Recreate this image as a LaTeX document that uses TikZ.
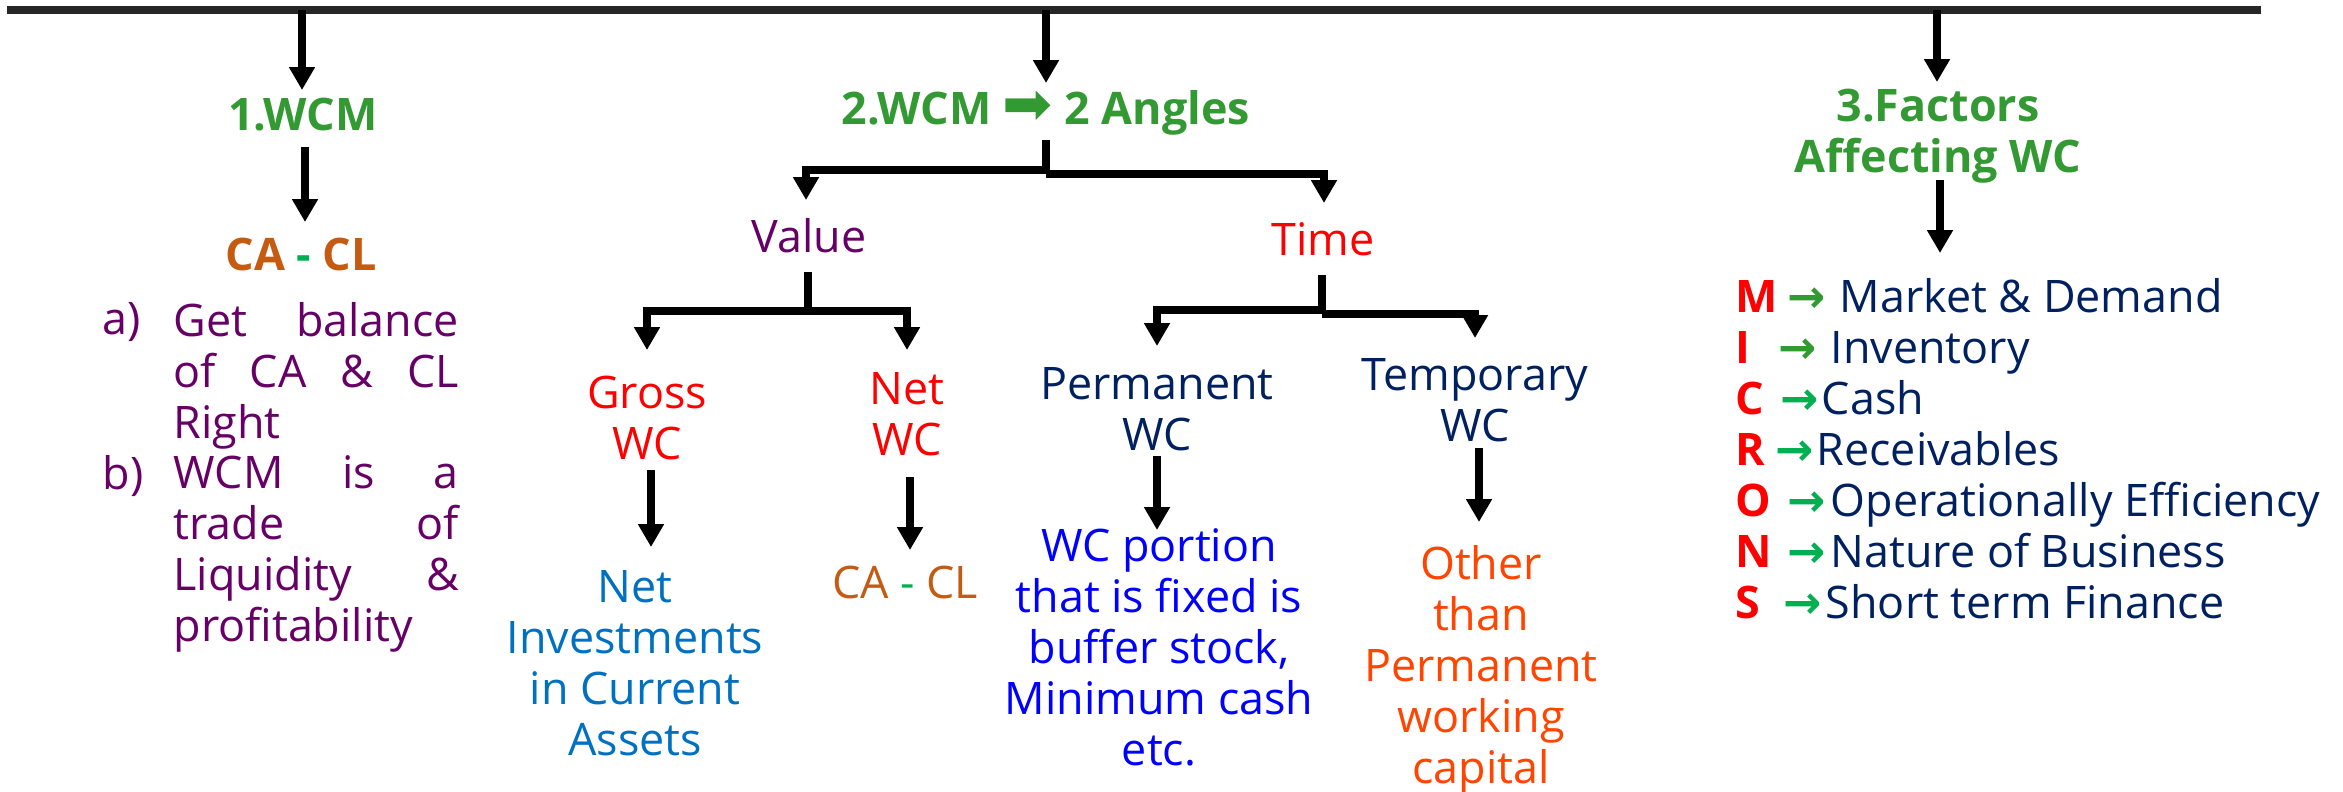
\documentclass[tikz,border=0pt]{standalone}
\usepackage{fontspec}
\setmainfont{Open Sans}
\newfontfamily\symf{DejaVu Sans}
\usetikzlibrary{arrows.meta}
\definecolor{tgreen}{HTML}{339933}
\definecolor{bgreen}{HTML}{00B050}
\definecolor{caorange}{HTML}{C55A11}
\definecolor{purp}{HTML}{660066}
\definecolor{navy}{HTML}{002060}
\definecolor{nblue}{HTML}{0070C0}
\definecolor{pblue}{HTML}{0000FF}
\definecolor{ored}{HTML}{FF4500}
\tikzset{
  arr/.style={line width=2.2pt, -{Triangle[width=7pt,length=6.5pt]}},
  bar/.style={line width=2.2pt},
  txt/.style={font=\fontsize{12.75}{14.5}\selectfont, inner sep=0pt},
  ttl/.style={txt, font=\fontsize{12.75}{14.5}\selectfont\bfseries, text=tgreen},
}
\newcommand{\litem}[5]{\makebox[#1cm][l]{\bfseries\textcolor{red}{#3}}\makebox[#2cm][l]{\fontsize{13}{14.5}\selectfont\symf\bfseries\textcolor{#4}{→}}#5}
\begin{document}
\begin{tikzpicture}[x=0.01cm,y=-0.01cm]
\useasboundingbox (0,0) rectangle (2343,791);
% top line
\coordinate (t0) at (7,10); \coordinate (t1) at (2261,10);
\draw[line width=2pt, black!85] (t0) -- (t1);

% ---------- branch 1 ----------
\node[ttl, anchor=north] (wcm1) at (303,97) {1.WCM};
\node[txt, anchor=north, font=\fontsize{12.75}{14.5}\selectfont\bfseries] (calc1) at (301,237)
  {\textcolor{caorange}{CA} \textcolor{bgreen}{-} \textcolor{caorange}{CL}};
\node[txt, text=purp, anchor=north west] (la) at (102,302) {a)};
\node[txt, text=purp, anchor=north west, text width=2.85cm, align=left] (lista) at (173,302)
  {Get\hfill balance\\of\hfill CA\hfill \&\hfill CL\\Right};
\node[txt, text=purp, anchor=north west] (lb) at (102,455) {b)};
\node[txt, text=purp, anchor=north west, text width=2.85cm, align=left] (listb) at (173,455)
  {WCM\hfill is\hfill a\\trade\hfill of\\Liquidity\hfill \&\\profitability};

\coordinate (a1s) at (302,10); \coordinate (a1e) at (302,90);
\draw[arr] (a1s) -- (a1e);
\coordinate (a2s) at (305,147); \coordinate (a2e) at (305,222);
\draw[arr] (a2s) -- (a2e);

% ---------- branch 2 ----------
\node[ttl, anchor=north] (wcm2) at (1046,90)
  {2.WCM {\fontsize{17}{14.5}\selectfont\mdseries\symf ➡} 2 Angles};
\node[txt, text=purp, anchor=north] (value) at (809,218) {Value};
\node[txt, text=red, anchor=north] (time) at (1323,222) {Time};
\node[txt, text=red, anchor=north, align=center] (gross) at (647,375) {Gross\\WC};
\node[txt, text=red, anchor=north, align=center] (netwc) at (907,372) {Net\\WC};
\node[txt, text=navy, anchor=north, align=center] (perm) at (1157,367) {Permanent\\WC};
\node[txt, text=navy, anchor=north, align=center] (temp) at (1475,358) {Temporary\\WC};
\node[txt, text=nblue, anchor=north, align=center] (netinv) at (635,570)
  {Net\\Investments\\in Current\\Assets};
\node[txt, anchor=north] (calc2) at (905,565)
  {\textcolor{caorange}{CA} \textcolor{bgreen}{-} \textcolor{caorange}{CL}};
\node[txt, text=pblue, anchor=north, align=center] (wcport) at (1159,528)
  {WC portion\\that is fixed is\\buffer stock,\\Minimum cash\\etc.};
\node[txt, text=ored, anchor=north, align=center] (other) at (1481,545)
  {Other\\than\\Permanent\\working\\capital};

\coordinate (m1s) at (1046,10); \coordinate (m1e) at (1046,83);
\draw[arr] (m1s) -- (m1e);
\coordinate (m2s) at (1046,140); \coordinate (m2jl) at (1046,170); \coordinate (m2jr) at (1046,174);
\coordinate (m2l) at (806,200); \coordinate (m2r) at (1324,203);
\draw[bar] (m2s) -- (m2jr);
\draw[arr] (m2jl) -| (m2l);
\draw[arr] (m2jr) -| (m2r);

\coordinate (vs) at (808,272); \coordinate (vj) at (808,311);
\coordinate (vl) at (647,350); \coordinate (vr) at (907,350);
\draw[bar] (vs) -- (vj);
\draw[arr] (vj) -| (vl);
\draw[arr] (vj) -| (vr);

\coordinate (ts) at (1322,275); \coordinate (tjl) at (1322,310); \coordinate (tjr) at (1322,314);
\coordinate (tl) at (1157,346); \coordinate (tr) at (1475,338);
\draw[bar] (ts) -- (tjr);
\draw[arr] (tjl) -| (tl);
\draw[arr] (tjr) -| (tr);

\coordinate (gs) at (651,470); \coordinate (ge) at (651,547);
\draw[arr] (gs) -- (ge);
\coordinate (ns) at (910,477); \coordinate (ne) at (910,550);
\draw[arr] (ns) -- (ne);
\coordinate (ps) at (1157,456); \coordinate (pe) at (1157,530);
\draw[arr] (ps) -- (pe);
\coordinate (tps) at (1479,448); \coordinate (tpe) at (1479,522);
\draw[arr] (tps) -- (tpe);

% ---------- branch 3 ----------
\node[ttl, anchor=north, align=center] (fact) at (1938,88) {3.Factors\\Affecting WC};
\node[txt, text=navy, anchor=north west, align=left] (micron) at (1735,278)
  {\litem{0.52}{0.52}{M}{tgreen}{Market \& Demand}\\
   \litem{0.43}{0.52}{I}{tgreen}{Inventory}\\
   \litem{0.45}{0.41}{C}{bgreen}{Cash}\\
   \litem{0.40}{0.41}{R}{bgreen}{Receivables}\\
   \litem{0.52}{0.43}{O}{bgreen}{Operationally Efficiency}\\
   \litem{0.52}{0.43}{N}{bgreen}{Nature of Business}\\
   \litem{0.48}{0.42}{S}{bgreen}{Short term Finance}};

\coordinate (r1s) at (1937,10); \coordinate (r1e) at (1937,82);
\draw[arr] (r1s) -- (r1e);
\coordinate (r2s) at (1940,180); \coordinate (r2e) at (1940,253);
\draw[arr] (r2s) -- (r2e);
\end{tikzpicture}
\end{document}
